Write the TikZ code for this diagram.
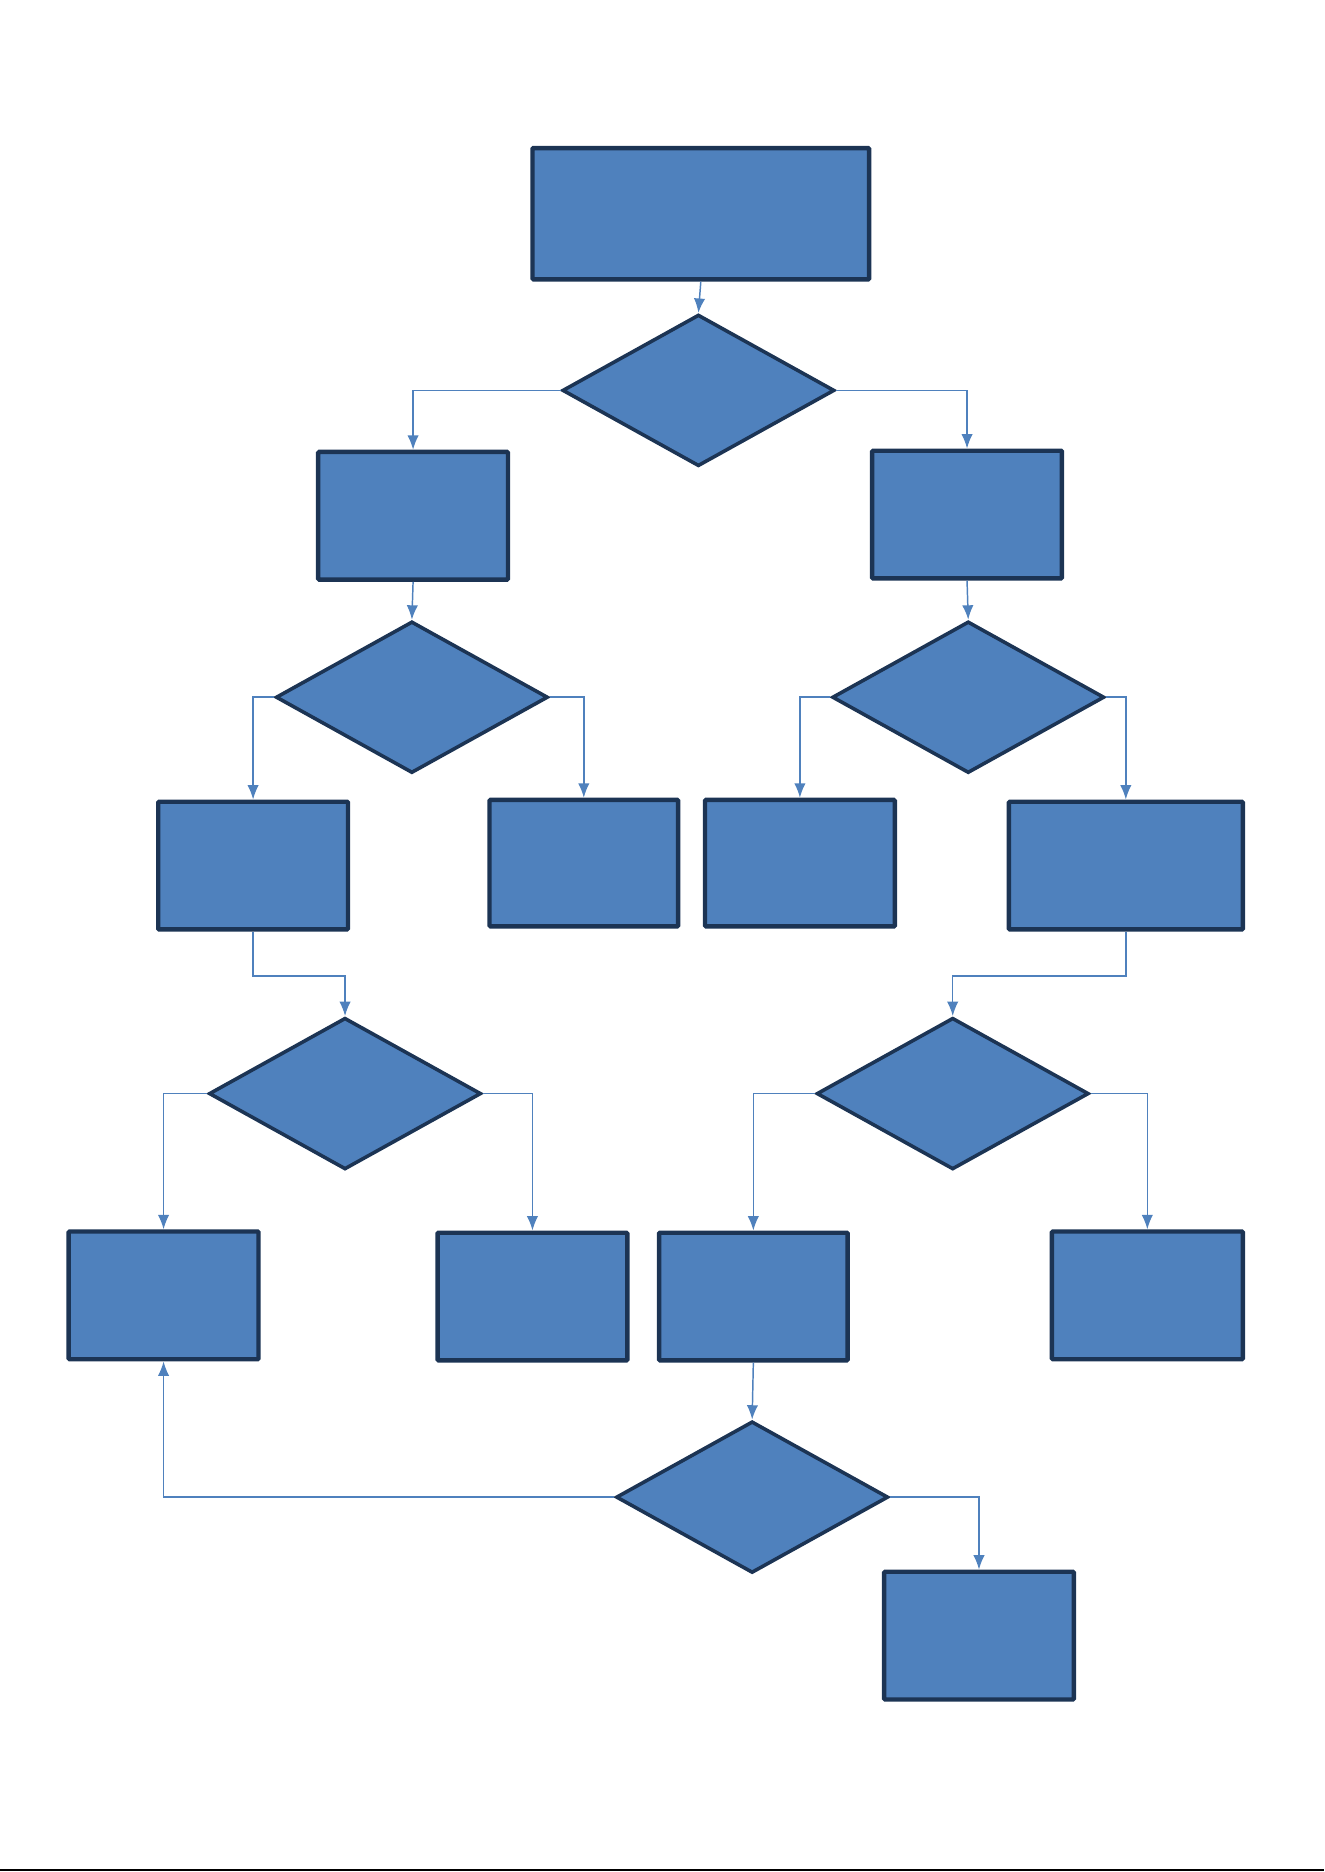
\documentclass[tikz,border=0pt]{standalone}
\usepackage{xcolor}
\usepackage{tikz}
\usetikzlibrary{arrows.meta, shapes.geometric, positioning}

\definecolor{bleu}{HTML}{4F81BD}
\definecolor{marine}{HTML}{1C3454}

\begin{document}
\begin{tikzpicture}[x=0.02cm,y=-0.02cm,>={Latex[length=2.4mm,width=1.9mm]},
    boite/.style={draw=marine, fill=bleu, line width=2.1pt, inner sep=0pt, rounded corners=0.5pt},
    choix/.style={diamond, draw=marine, fill=bleu, line width=1.7pt, inner sep=0pt,
                  minimum width=4.56cm, minimum height=2.54cm},
    fleche/.style={->, draw=bleu, line width=0.7pt}]
                \useasboundingbox (0,0) rectangle (1109,1568);
                % Déclaration des boîtes
                \node[boite, minimum width=5.64cm, minimum height=2.2cm] (a) at (587,179) {};
                \node[boite, minimum width=3.18cm, minimum height=2.14cm] (b) at (346,432) {};
                \node[boite, minimum width=3.18cm, minimum height=2.14cm] (c) at (810,431) {};
                \node[boite, minimum width=3.18cm, minimum height=2.14cm] (e) at (212,725) {};
                \node[boite, minimum width=3.16cm, minimum height=2.12cm] (f) at (489,723) {};
                \node[boite, minimum width=3.18cm, minimum height=2.12cm] (g) at (670,723) {};
                \node[boite, minimum width=3.92cm, minimum height=2.14cm] (h) at (943,725) {};
                \node[boite, minimum width=3.18cm, minimum height=2.14cm] (i) at (137,1085) {};
                \node[boite, minimum width=3.18cm, minimum height=2.14cm] (j) at (446,1086) {};
                \node[boite, minimum width=3.16cm, minimum height=2.14cm] (k) at (631,1086) {};
                \node[boite, minimum width=3.2cm, minimum height=2.14cm] (l) at (961,1085) {};
                \node[boite, minimum width=3.18cm, minimum height=2.14cm] (m) at (820,1370) {};

                % Déclaration des losanges
                \node[choix] (d1) at (585,327) {};
                \node[choix] (d2) at (345,584) {};
                \node[choix] (d3) at (811,584) {};
                \node[choix] (d4) at (289,916) {};
                \node[choix] (d5) at (798,916) {};
                \node[choix] (d6) at (630,1254) {};

                % Ajout des flèches
                \draw[fleche] (a.south) -- (d1.north);
                \draw[fleche] (d1.west) -| (b.north);
                \draw[fleche] (d1.east) -| (c.north);
                \draw[fleche] (b.south) -- (d2.north);
                \draw[fleche] (c.south) -- (d3.north);
                \draw[fleche] (d2.west) -| (e.north);
                \draw[fleche] (d2.east) -| (f.north);
                \draw[fleche] (d3.west) -| (g.north);
                \draw[fleche] (d3.east) -| (h.north);
                \draw[fleche] (e.south) -- ++(0,37) -| (d4.north);
                \draw[fleche] (h.south) -- ++(0,37) -| (d5.north);
                \draw[fleche] (d4.west) -| (i.north);
                \draw[fleche] (d4.east) -| (j.north);
                \draw[fleche] (d5.west) -| (k.north);
                \draw[fleche] (d5.east) -| (l.north);
                \draw[fleche] (k.south) -- (d6.north);
                \draw[fleche] (d6.west) -| (i.south);
                \draw[fleche] (d6.east) -| (m.north);

                % Trait du bas
                \draw[black, line width=1pt] (0,1566.5) -- (1109,1566.5);
              \end{tikzpicture}
\end{document}
